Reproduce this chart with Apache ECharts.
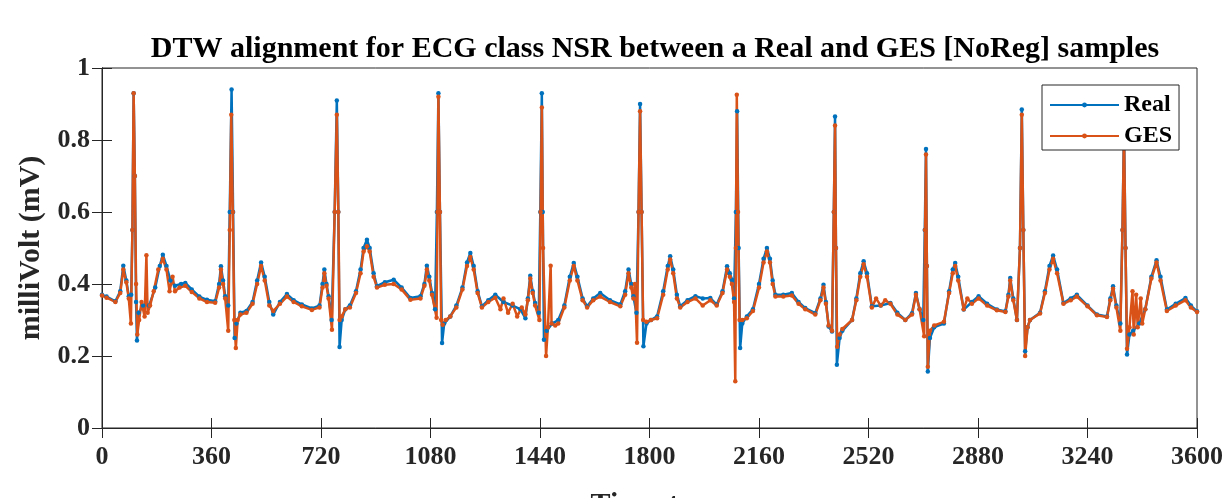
<!DOCTYPE html>
<html>
<head>
<meta charset="utf-8">
<script src="https://cdn.jsdelivr.net/npm/echarts@6/dist/echarts.min.js"></script>
<style>html,body{margin:0;padding:0;background:#fff}#c{width:1227px;height:498px}</style>
</head>
<body>
<div id="c"></div>
<script>
const titleText = 'DTW alignment for ECG class NSR between a Real and GES [NoReg] samples';
const xTicks = [0, 360, 720, 1080, 1440, 1800, 2160, 2520, 2880, 3240, 3600];
const yTicks = [0, 0.2, 0.4, 0.6, 0.8, 1];
const seriesNames = ['Real', 'GES'];

const realData = [
[0,0.37],[15,0.365],[44,0.352],[60,0.38],[70,0.451],[80,0.41],[88,0.366],[96,0.37],[100,0.55],[104,0.93],[108,0.7],[112,0.35],[115,0.243],[120,0.32],[135,0.34],[155,0.34],[175,0.39],[190,0.45],[200,0.481],[212,0.45],[225,0.41],[240,0.395],[260,0.4],[274,0.403],[295,0.385],[320,0.365],[345,0.356],[372,0.352],[385,0.4],
[391,0.449],[398,0.41],[405,0.366],[415,0.34],[420,0.6],[426,0.94],[431,0.6],[436,0.25],[442,0.29],[455,0.32],[475,0.325],[495,0.35],[510,0.41],[523,0.46],[535,0.42],[550,0.35],[563,0.315],[585,0.35],[608,0.372],[630,0.355],[657,0.343],[690,0.332],[715,0.34],[725,0.4],
[731,0.44],[738,0.4],[745,0.366],[755,0.3],[765,0.6],[772,0.91],[777,0.6],[781,0.225],[788,0.3],[800,0.33],[815,0.34],[835,0.38],[850,0.44],[860,0.5],[871,0.523],[880,0.5],[893,0.43],[904,0.394],[930,0.405],[959,0.412],[985,0.39],[1014,0.361],[1047,0.366],[1060,0.4],
[1068,0.451],[1076,0.42],[1085,0.375],[1095,0.33],[1101,0.6],[1106,0.93],[1111,0.6],[1118,0.236],[1125,0.29],[1145,0.31],[1165,0.34],[1185,0.39],[1200,0.46],[1211,0.486],[1222,0.45],[1235,0.38],[1249,0.338],[1270,0.355],[1293,0.37],[1320,0.35],[1350,0.34],[1375,0.33],[1392,0.305],[1400,0.36],
[1408,0.423],[1416,0.38],[1424,0.347],[1436,0.32],[1441,0.6],[1446,0.93],[1449,0.6],[1453,0.245],[1462,0.27],[1480,0.29],[1500,0.3],[1520,0.34],[1538,0.42],[1551,0.458],[1563,0.42],[1580,0.36],[1595,0.338],[1615,0.36],[1638,0.375],[1670,0.355],[1704,0.343],[1720,0.38],
[1731,0.44],[1740,0.4],[1747,0.366],[1757,0.32],[1764,0.6],[1769,0.9],[1774,0.6],[1780,0.227],[1790,0.29],[1805,0.3],[1825,0.31],[1845,0.38],[1860,0.45],[1868,0.477],[1878,0.44],[1890,0.37],[1901,0.338],[1925,0.355],[1951,0.366],[1975,0.36],[2000,0.361],[2021,0.343],[2040,0.38],
[2055,0.449],[2064,0.43],[2071,0.412],[2078,0.36],[2084,0.6],[2088,0.88],[2093,0.5],[2098,0.222],[2105,0.29],[2120,0.31],[2140,0.33],[2160,0.4],[2175,0.47],[2186,0.5],[2196,0.47],[2205,0.41],[2214,0.37],[2240,0.37],[2268,0.375],[2290,0.35],[2312,0.333],[2345,0.319],[2362,0.36],
[2372,0.398],[2380,0.35],[2389,0.282],[2400,0.268],[2406,0.6],[2410,0.865],[2413,0.5],[2416,0.176],[2425,0.25],[2434,0.27],[2466,0.3],[2480,0.36],[2493,0.43],[2504,0.463],[2515,0.43],[2531,0.338],[2560,0.34],[2592,0.347],[2615,0.32],[2641,0.3],[2663,0.319],
[2676,0.375],[2688,0.33],[2700,0.3],[2705,0.55],[2709,0.775],[2712,0.45],[2715,0.157],[2722,0.25],[2736,0.28],[2768,0.29],[2785,0.38],[2797,0.44],[2805,0.458],[2815,0.42],[2833,0.329],[2860,0.35],[2882,0.366],[2910,0.345],[2942,0.329],[2970,0.324],[2980,0.37],
[2986,0.417],[2996,0.36],[3008,0.3],[3018,0.5],[3024,0.885],[3029,0.55],[3035,0.213],[3043,0.28],[3051,0.3],[3084,0.32],[3100,0.38],[3115,0.45],[3127,0.479],[3140,0.44],[3161,0.347],[3185,0.36],[3205,0.37],[3240,0.34],[3271,0.315],[3304,0.31],[3315,0.36],
[3324,0.394],[3335,0.34],[3348,0.29],[3355,0.55],[3360,0.84],[3365,0.5],[3370,0.204],[3378,0.26],[3390,0.27],[3410,0.29],[3430,0.33],[3450,0.42],[3467,0.466],[3480,0.42],[3501,0.329],[3530,0.345],[3562,0.361],[3580,0.34],[3600,0.324]
];

const gesData = [
[0,0.368],[15,0.362],[44,0.35],[60,0.375],[70,0.44],[80,0.405],[88,0.36],[95,0.29],[100,0.55],[104,0.93],[108,0.7],[112,0.4],[116,0.26],[122,0.3],[130,0.35],[140,0.31],[146,0.48],[150,0.32],[158,0.34],[170,0.38],[185,0.44],[200,0.47],[212,0.44],[222,0.38],[232,0.42],[240,0.38],[255,0.39],[274,0.395],[295,0.378],[320,0.36],[345,0.35],[372,0.348],[385,0.39],
[391,0.44],[398,0.4],[405,0.36],[415,0.27],[420,0.55],[425,0.87],[430,0.6],[435,0.3],[440,0.222],[446,0.3],[455,0.315],[475,0.32],[495,0.345],[510,0.4],[523,0.45],[535,0.41],[550,0.34],[563,0.325],[585,0.345],[608,0.365],[630,0.35],[657,0.338],[690,0.328],[715,0.335],[725,0.39],
[731,0.43],[738,0.395],[745,0.36],[756,0.273],[765,0.6],[772,0.87],[777,0.6],[781,0.3],[788,0.31],[800,0.33],[815,0.335],[835,0.375],[850,0.43],[860,0.49],[871,0.505],[880,0.49],[893,0.42],[904,0.39],[930,0.398],[959,0.4],[985,0.385],[1014,0.356],[1047,0.36],[1060,0.395],
[1068,0.44],[1076,0.41],[1085,0.37],[1100,0.306],[1103,0.6],[1106,0.92],[1111,0.6],[1115,0.3],[1120,0.287],[1130,0.3],[1145,0.31],[1165,0.335],[1185,0.385],[1200,0.45],[1211,0.475],[1222,0.44],[1235,0.375],[1249,0.335],[1270,0.35],[1293,0.362],[1310,0.33],[1320,0.36],[1335,0.32],[1350,0.345],[1365,0.31],[1380,0.335],[1392,0.315],[1400,0.355],
[1408,0.415],[1416,0.375],[1424,0.34],[1438,0.3],[1442,0.6],[1446,0.89],[1450,0.5],[1460,0.2],[1466,0.28],[1475,0.451],[1478,0.29],[1490,0.285],[1500,0.29],[1520,0.335],[1538,0.41],[1551,0.45],[1563,0.41],[1580,0.355],[1595,0.335],[1615,0.355],[1638,0.365],[1670,0.35],[1704,0.338],[1720,0.37],
[1731,0.43],[1740,0.39],[1747,0.36],[1752,0.4],[1759,0.237],[1764,0.6],[1769,0.88],[1774,0.6],[1779,0.3],[1790,0.295],[1805,0.3],[1825,0.305],[1845,0.37],[1860,0.44],[1868,0.468],[1878,0.43],[1890,0.36],[1901,0.335],[1925,0.35],[1951,0.36],[1975,0.34],[2000,0.355],[2021,0.34],[2040,0.375],
[2055,0.44],[2064,0.42],[2071,0.4],[2078,0.35],[2082,0.13],[2084,0.5],[2087,0.926],[2091,0.6],[2096,0.3],[2105,0.3],[2120,0.305],[2140,0.325],[2160,0.39],[2175,0.46],[2186,0.49],[2196,0.46],[2205,0.4],[2214,0.365],[2240,0.365],[2268,0.368],[2290,0.345],[2312,0.33],[2345,0.315],[2362,0.355],
[2372,0.39],[2380,0.345],[2389,0.285],[2400,0.27],[2406,0.6],[2410,0.84],[2413,0.5],[2417,0.226],[2425,0.26],[2434,0.275],[2466,0.3],[2480,0.355],[2493,0.42],[2504,0.455],[2515,0.42],[2531,0.335],[2545,0.36],[2560,0.34],[2575,0.355],[2592,0.345],[2615,0.315],[2641,0.3],[2663,0.315],
[2676,0.37],[2688,0.33],[2703,0.255],[2706,0.55],[2709,0.76],[2712,0.45],[2715,0.17],[2722,0.27],[2736,0.285],[2768,0.295],[2785,0.375],[2797,0.43],[2805,0.45],[2815,0.41],[2833,0.33],[2845,0.36],[2860,0.345],[2882,0.36],[2910,0.34],[2942,0.327],[2970,0.322],[2980,0.365],
[2986,0.41],[2996,0.355],[3008,0.3],[3018,0.5],[3024,0.87],[3029,0.55],[3035,0.2],[3043,0.28],[3051,0.3],[3084,0.318],[3100,0.375],[3115,0.44],[3127,0.47],[3140,0.43],[3161,0.345],[3185,0.355],[3205,0.365],[3240,0.338],[3271,0.313],[3304,0.308],[3315,0.355],
[3324,0.387],[3335,0.335],[3348,0.27],[3355,0.55],[3360,0.82],[3365,0.5],[3370,0.22],[3378,0.28],[3388,0.38],[3392,0.26],[3400,0.37],[3405,0.28],[3415,0.36],[3420,0.29],[3430,0.33],[3450,0.415],[3467,0.46],[3480,0.41],[3501,0.325],[3530,0.34],[3562,0.355],[3580,0.335],[3600,0.322]
];

const FONT = '"Liberation Serif", "Times New Roman", serif';
const AX = '#262626';
const chart = echarts.init(document.getElementById('c'), null, {renderer: 'canvas'});
const tickFont = {fontFamily: FONT, fontWeight: 'bold', fontSize: 26, color: '#262626'};
const nameFont = {fontFamily: FONT, fontWeight: 'bold', fontSize: 30, color: '#262626'};
chart.setOption({
  animation: false,
  backgroundColor: '#fff',
  title: {
    text: titleText, left: 650, top: 29, textAlign: 'center',
    textStyle: {fontFamily: FONT, fontWeight: 'bold', fontSize: 30, color: '#000'}
  },
  grid: {left: 102, top: 68, width: 1095, height: 360, show: true, borderColor: AX, borderWidth: 1,
         backgroundColor: 'transparent', containLabel: false, outerBoundsMode: 'none'},
  legend: {
    left: 1042, top: 85, orient: 'vertical',
    backgroundColor: '#fff', borderColor: AX, borderWidth: 1, borderRadius: 0,
    padding: [8, 7, 2, 7], itemGap: 7, itemWidth: 69, itemHeight: 6,
    textStyle: {fontFamily: FONT, fontWeight: 'bold', fontSize: 24, color: '#000'},
    data: seriesNames
  },
  xAxis: [{
    type: 'value', min: 0, max: 3600, interval: 360,
    name: 'Timestep', nameLocation: 'middle', nameGap: 62,
    nameTextStyle: nameFont,
    axisLine: {show: true, lineStyle: {color: AX, width: 1}},
    axisTick: {show: true, inside: true, length: 10, lineStyle: {color: AX}},
    axisLabel: Object.assign({margin: 16, formatter: v => String(v)}, tickFont),
    splitLine: {show: false}
  }, {
    type: 'value', position: 'top', min: 0, max: 3600, interval: 360,
    axisLine: {show: true, lineStyle: {color: AX, width: 1}},
    axisTick: {show: true, inside: true, length: 10, lineStyle: {color: AX}},
    axisLabel: {show: false}, splitLine: {show: false}
  }],
  yAxis: [{
    type: 'value', min: 0, max: 1, interval: 0.2,
    name: 'milliVolt (mV)', nameLocation: 'middle', nameGap: 51,
    nameTextStyle: nameFont,
    axisLine: {show: true, lineStyle: {color: AX, width: 1}},
    axisTick: {show: true, inside: true, length: 10, lineStyle: {color: AX}},
    axisLabel: Object.assign({margin: 12, formatter: v => (Math.round(v * 10) / 10).toString()}, tickFont),
    splitLine: {show: false}
  }, {
    type: 'value', position: 'right', min: 0, max: 1, interval: 0.2,
    axisLine: {show: true, lineStyle: {color: AX, width: 1}},
    axisTick: {show: true, inside: true, length: 10, lineStyle: {color: AX}},
    axisLabel: {show: false}, splitLine: {show: false}
  }],
  series: [{
    name: seriesNames[0], type: 'line', data: realData,
    symbol: 'circle', symbolSize: 4.5, showSymbol: true,
    lineStyle: {color: '#0072BD', width: 2.5},
    itemStyle: {color: '#0072BD'}
  }, {
    name: seriesNames[1], type: 'line', data: gesData,
    symbol: 'circle', symbolSize: 4.5, showSymbol: true,
    lineStyle: {color: '#D95319', width: 2.5},
    itemStyle: {color: '#D95319'}
  }]
});
</script>
</body>
</html>
